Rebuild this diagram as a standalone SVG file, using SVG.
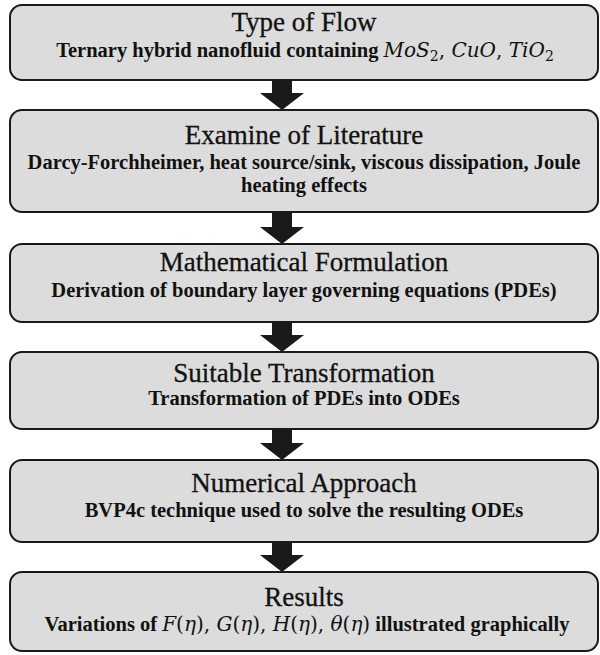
<svg xmlns="http://www.w3.org/2000/svg" width="600" height="655" viewBox="0 0 600 655">
<style>
.box{fill:#dcdcdc;stroke:#1a1a1a;stroke-width:2}
text{font-family:'Liberation Serif','Times New Roman',serif;fill:#111;text-anchor:middle}
.t{font-size:27px;font-weight:400;stroke:#111;stroke-width:0.3}
.s{font-size:20.5px;font-weight:700}
.m{font-family:'DejaVu Serif',serif;font-style:italic;font-weight:400;font-size:20px}
.p{font-family:'DejaVu Serif',serif;font-weight:400;font-size:20px}
.sub{font-family:'DejaVu Serif',serif;font-weight:400;font-size:14px}
.arr{fill:#1a1a1a}
</style>
<rect width="600" height="655" fill="#ffffff"/>
<g id="connectors">
<polygon class="arr" points="272,81 292,81 292,93 304,93 282,110 260,93 272,93"/>
<polygon class="arr" points="272,213 292,213 292,227 304,227 282,244 260,227 272,227"/>
<polygon class="arr" points="272,323 292,323 292,335 304,335 282,352 260,335 272,335"/>
<polygon class="arr" points="272,430 292,430 292,443 304,443 282,460 260,443 272,443"/>
<polygon class="arr" points="272,543 292,543 292,555 304,555 282,572 260,555 272,555"/>
</g>
<g id="node1">
<rect class="box" x="10" y="5" width="588" height="75" rx="12"/>
<text class="t" x="304" y="31">Type of Flow</text>
<text class="s" x="305" y="57">Ternary hybrid nanofluid containing <tspan class="m">MoS</tspan><tspan class="sub" dy="4">2</tspan><tspan class="p" dy="-4">, </tspan><tspan class="m">CuO</tspan><tspan class="p">, </tspan><tspan class="m">TiO</tspan><tspan class="sub" dy="4">2</tspan></text>
</g>
<g id="node2">
<rect class="box" x="10" y="110" width="588" height="102" rx="12"/>
<text class="t" x="304" y="144">Examine of Literature</text>
<text class="s" x="304" y="169">Darcy-Forchheimer, heat source/sink, viscous dissipation, Joule</text>
<text class="s" x="304" y="192">heating effects</text>
</g>
<g id="node3">
<rect class="box" x="10" y="244" width="588" height="78" rx="12"/>
<text class="t" x="304" y="271">Mathematical Formulation</text>
<text class="s" x="304" y="297">Derivation of boundary layer governing equations (PDEs)</text>
</g>
<g id="node4">
<rect class="box" x="10" y="352" width="588" height="77" rx="12"/>
<text class="t" x="304" y="382">Suitable Transformation</text>
<text class="s" x="304" y="405">Transformation of PDEs into ODEs</text>
</g>
<g id="node5">
<rect class="box" x="10" y="460" width="588" height="82" rx="12"/>
<text class="t" x="304" y="492">Numerical Approach</text>
<text class="s" x="304" y="517">BVP4c technique used to solve the resulting ODEs</text>
</g>
<g id="node6">
<rect class="box" x="10" y="572" width="588" height="79" rx="12"/>
<text class="t" x="304" y="606">Results</text>
<text class="s" x="307" y="631">Variations of <tspan class="m">F</tspan><tspan class="p">(</tspan><tspan class="m">η</tspan><tspan class="p">), </tspan><tspan class="m">G</tspan><tspan class="p">(</tspan><tspan class="m">η</tspan><tspan class="p">), </tspan><tspan class="m">H</tspan><tspan class="p">(</tspan><tspan class="m">η</tspan><tspan class="p">), </tspan><tspan class="m">θ</tspan><tspan class="p">(</tspan><tspan class="m">η</tspan><tspan class="p">)</tspan> illustrated graphically</text>
</g>
</svg>
